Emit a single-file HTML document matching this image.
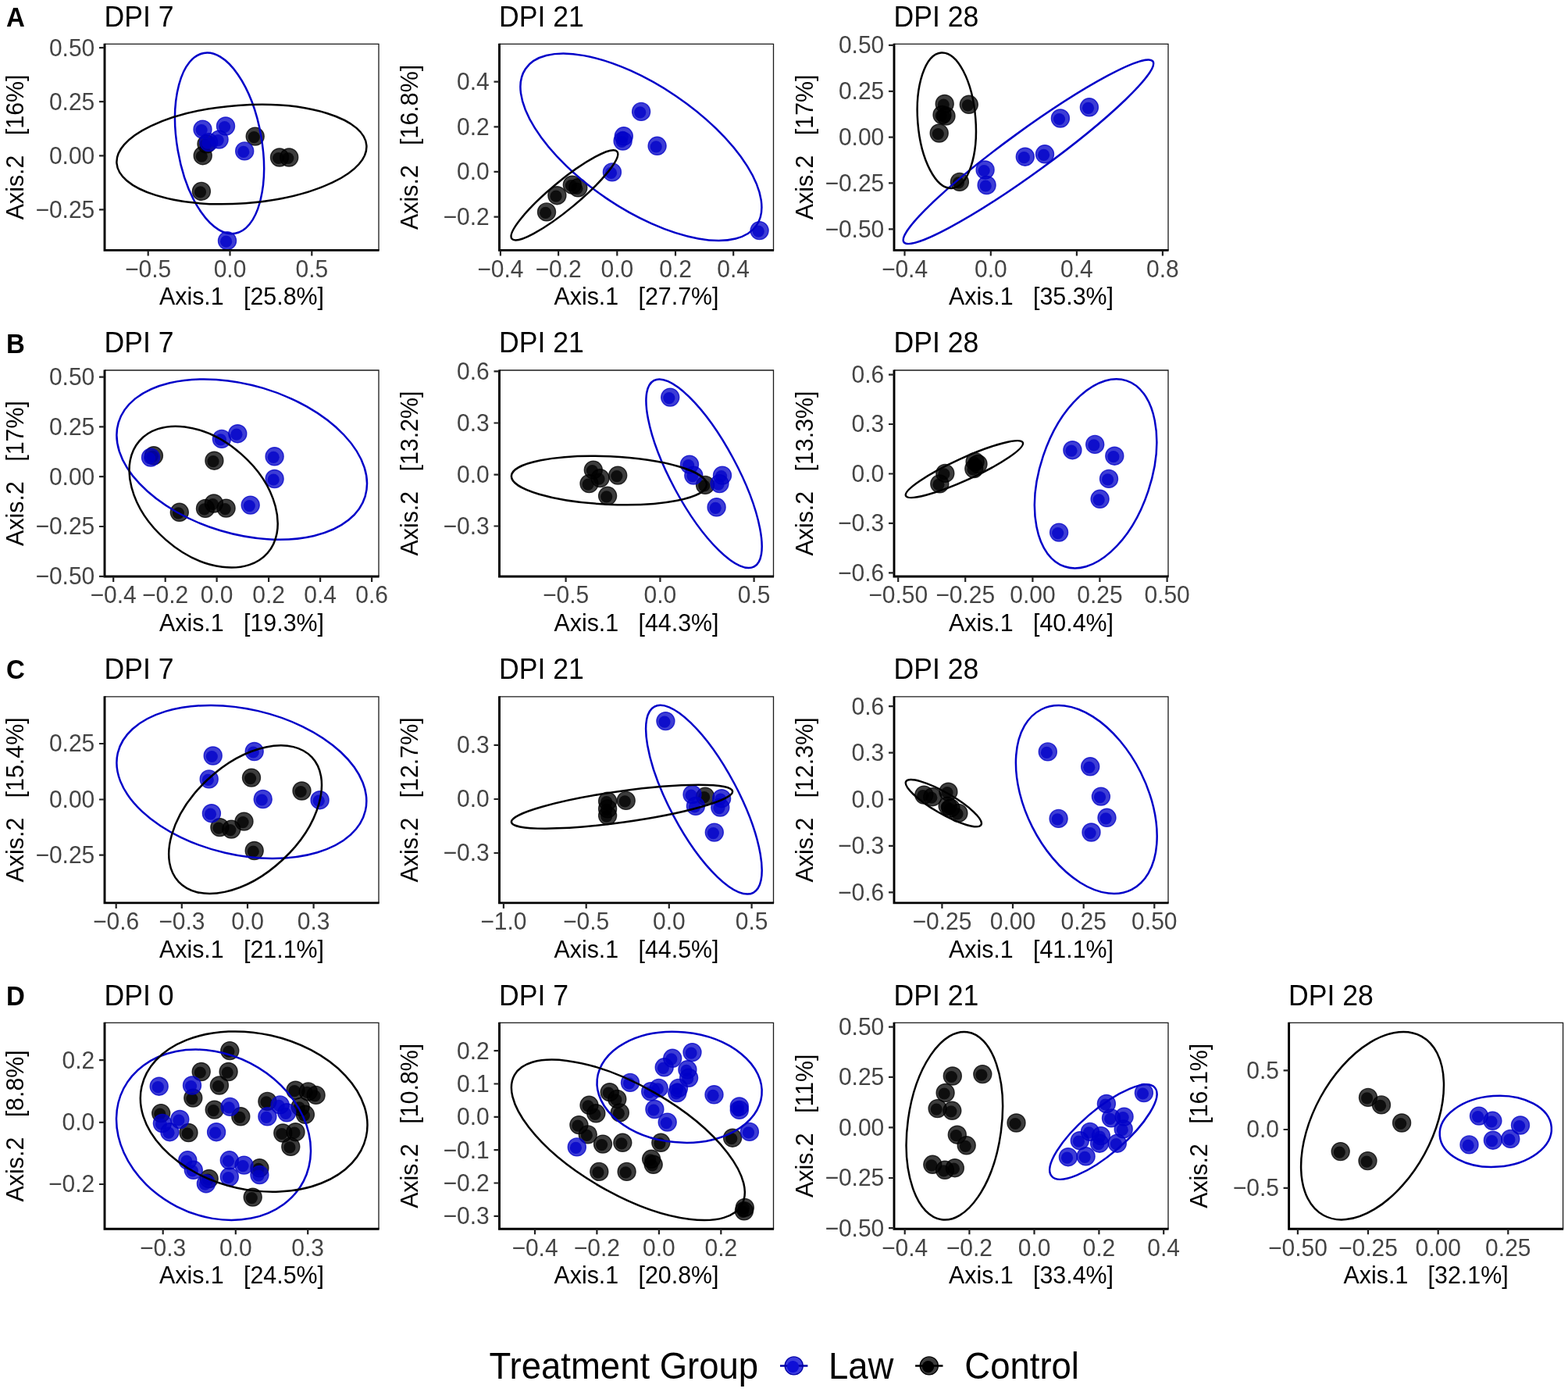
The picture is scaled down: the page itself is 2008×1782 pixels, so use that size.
<!DOCTYPE html>
<html><head><meta charset="utf-8"><title>PCoA</title>
<style>html,body{margin:0;padding:0;background:#fff;}svg{display:block;font-family:'Liberation Sans', Arial, Helvetica, sans-serif;}</style></head><body>
<svg xmlns="http://www.w3.org/2000/svg" width="2008" height="1782" viewBox="0 0 2008 1782">
<rect width="2008" height="1782" fill="#fff"/>
<text transform="translate(8 33.9) scale(1 1.04)" font-size="33" font-weight="bold">A</text>
<text transform="translate(8 451.5) scale(1 1.04)" font-size="33" font-weight="bold">B</text>
<text transform="translate(8 869.4) scale(1 1.04)" font-size="33" font-weight="bold">C</text>
<text transform="translate(8 1286.8) scale(1 1.04)" font-size="33" font-weight="bold">D</text>
<g><text transform="translate(133.5 33.6) scale(1 1.04)" font-size="35.6">DPI 7</text><clipPath id="c00"><rect x="134" y="56.4" width="351.0" height="264.0"/></clipPath><g clip-path="url(#c00)"><circle cx="326.7" cy="174.6" r="11.5" fill="#000000" fill-opacity="0.76" stroke="#000000" stroke-opacity="0.76" stroke-width="1.4"/><circle cx="325.3" cy="175.6" r="7.6" fill="#000000" fill-opacity="0.76"/><circle cx="259.7" cy="199.2" r="11.5" fill="#000000" fill-opacity="0.76" stroke="#000000" stroke-opacity="0.76" stroke-width="1.4"/><circle cx="258.3" cy="200.2" r="7.6" fill="#000000" fill-opacity="0.76"/><circle cx="257.9" cy="244.9" r="11.5" fill="#000000" fill-opacity="0.76" stroke="#000000" stroke-opacity="0.76" stroke-width="1.4"/><circle cx="256.5" cy="245.9" r="7.6" fill="#000000" fill-opacity="0.76"/><circle cx="358" cy="201.5" r="11.5" fill="#000000" fill-opacity="0.76" stroke="#000000" stroke-opacity="0.76" stroke-width="1.4"/><circle cx="356.6" cy="202.5" r="7.6" fill="#000000" fill-opacity="0.76"/><circle cx="370.2" cy="201.5" r="11.5" fill="#000000" fill-opacity="0.76" stroke="#000000" stroke-opacity="0.76" stroke-width="1.4"/><circle cx="368.8" cy="202.5" r="7.6" fill="#000000" fill-opacity="0.76"/><circle cx="264.5" cy="184.3" r="11.5" fill="#000000" fill-opacity="0.76" stroke="#000000" stroke-opacity="0.76" stroke-width="1.4"/><circle cx="263.1" cy="185.3" r="7.6" fill="#000000" fill-opacity="0.76"/><circle cx="259.5" cy="165.6" r="11.5" fill="#0000c8" fill-opacity="0.76" stroke="#0000c8" stroke-opacity="0.76" stroke-width="1.4"/><circle cx="258.1" cy="166.6" r="7.6" fill="#0000c8" fill-opacity="0.76"/><circle cx="289" cy="161.5" r="11.5" fill="#0000c8" fill-opacity="0.76" stroke="#0000c8" stroke-opacity="0.76" stroke-width="1.4"/><circle cx="287.6" cy="162.5" r="7.6" fill="#0000c8" fill-opacity="0.76"/><circle cx="280.6" cy="178.6" r="11.5" fill="#0000c8" fill-opacity="0.76" stroke="#0000c8" stroke-opacity="0.76" stroke-width="1.4"/><circle cx="279.2" cy="179.6" r="7.6" fill="#0000c8" fill-opacity="0.76"/><circle cx="267.2" cy="182.1" r="11.5" fill="#0000c8" fill-opacity="0.76" stroke="#0000c8" stroke-opacity="0.76" stroke-width="1.4"/><circle cx="265.8" cy="183.1" r="7.6" fill="#0000c8" fill-opacity="0.76"/><circle cx="313.2" cy="193.4" r="11.5" fill="#0000c8" fill-opacity="0.76" stroke="#0000c8" stroke-opacity="0.76" stroke-width="1.4"/><circle cx="311.8" cy="194.4" r="7.6" fill="#0000c8" fill-opacity="0.76"/><circle cx="291" cy="308.2" r="11.5" fill="#0000c8" fill-opacity="0.76" stroke="#0000c8" stroke-opacity="0.76" stroke-width="1.4"/><circle cx="289.6" cy="309.2" r="7.6" fill="#0000c8" fill-opacity="0.76"/><ellipse cx="281.05" cy="183.4" rx="117.16" ry="54.09" transform="rotate(-99.87 281.05 183.4)" fill="none" stroke="#0000c8" stroke-width="2.5"/><ellipse cx="309.4" cy="197.55" rx="160.35" ry="62.78" transform="rotate(175.91 309.4 197.55)" fill="none" stroke="#000000" stroke-width="2.5"/></g><path d="M134 56.4H485V320.4" fill="none" stroke="#1a1a1a" stroke-width="1.3"/><path d="M134 55.8V320.4H485.6" fill="none" stroke="#000" stroke-width="2.9" stroke-linejoin="miter" stroke-linecap="butt"/><path d="M127 61.2H134M127 130.2H134M127 199.3H134M127 268.4H134M189.7 320.4V327.4M294.5 320.4V327.4M399.3 320.4V327.4" stroke="#222" stroke-width="2.2" fill="none"/><g font-size="30" fill="#444444"><text transform="translate(121.3 71.6) scale(1 1.04)" text-anchor="end">0.50</text><text transform="translate(121.3 140.6) scale(1 1.04)" text-anchor="end">0.25</text><text transform="translate(121.3 209.7) scale(1 1.04)" text-anchor="end">0.00</text><text transform="translate(121.3 278.8) scale(1 1.04)" text-anchor="end">−0.25</text><text transform="translate(189.7 354.6) scale(1 1.04)" text-anchor="middle">−0.5</text><text transform="translate(294.5 354.6) scale(1 1.04)" text-anchor="middle">0.0</text><text transform="translate(399.3 354.6) scale(1 1.04)" text-anchor="middle">0.5</text></g><text transform="translate(309.5 390.2) scale(1 1.04)" font-size="30.4" text-anchor="middle" xml:space="preserve">Axis.1   [25.8%]</text><text transform="translate(29.6 188.4) rotate(-90) scale(1 1.04)" font-size="30.4" text-anchor="middle" xml:space="preserve">Axis.2   [16%]</text></g>
<g><text transform="translate(639 33.6) scale(1 1.04)" font-size="35.6">DPI 21</text><clipPath id="c01"><rect x="639.5" y="56.4" width="351.0" height="264.0"/></clipPath><g clip-path="url(#c01)"><circle cx="700" cy="271.4" r="11.5" fill="#000000" fill-opacity="0.76" stroke="#000000" stroke-opacity="0.76" stroke-width="1.4"/><circle cx="698.6" cy="272.4" r="7.6" fill="#000000" fill-opacity="0.76"/><circle cx="713.4" cy="250.2" r="11.5" fill="#000000" fill-opacity="0.76" stroke="#000000" stroke-opacity="0.76" stroke-width="1.4"/><circle cx="712" cy="251.2" r="7.6" fill="#000000" fill-opacity="0.76"/><circle cx="732.8" cy="236.6" r="11.5" fill="#000000" fill-opacity="0.76" stroke="#000000" stroke-opacity="0.76" stroke-width="1.4"/><circle cx="731.4" cy="237.6" r="7.6" fill="#000000" fill-opacity="0.76"/><circle cx="740.3" cy="240.3" r="11.5" fill="#000000" fill-opacity="0.76" stroke="#000000" stroke-opacity="0.76" stroke-width="1.4"/><circle cx="738.9" cy="241.3" r="7.6" fill="#000000" fill-opacity="0.76"/><circle cx="821.1" cy="142.9" r="11.5" fill="#0000c8" fill-opacity="0.76" stroke="#0000c8" stroke-opacity="0.76" stroke-width="1.4"/><circle cx="819.7" cy="143.9" r="7.6" fill="#0000c8" fill-opacity="0.76"/><circle cx="798.8" cy="174.3" r="11.5" fill="#0000c8" fill-opacity="0.76" stroke="#0000c8" stroke-opacity="0.76" stroke-width="1.4"/><circle cx="797.4" cy="175.3" r="7.6" fill="#0000c8" fill-opacity="0.76"/><circle cx="797.6" cy="180.5" r="11.5" fill="#0000c8" fill-opacity="0.76" stroke="#0000c8" stroke-opacity="0.76" stroke-width="1.4"/><circle cx="796.2" cy="181.5" r="7.6" fill="#0000c8" fill-opacity="0.76"/><circle cx="841.6" cy="186.8" r="11.5" fill="#0000c8" fill-opacity="0.76" stroke="#0000c8" stroke-opacity="0.76" stroke-width="1.4"/><circle cx="840.2" cy="187.8" r="7.6" fill="#0000c8" fill-opacity="0.76"/><circle cx="783.9" cy="220.4" r="11.5" fill="#0000c8" fill-opacity="0.76" stroke="#0000c8" stroke-opacity="0.76" stroke-width="1.4"/><circle cx="782.5" cy="221.4" r="7.6" fill="#0000c8" fill-opacity="0.76"/><circle cx="972.6" cy="295.1" r="11.5" fill="#0000c8" fill-opacity="0.76" stroke="#0000c8" stroke-opacity="0.76" stroke-width="1.4"/><circle cx="971.2" cy="296.1" r="7.6" fill="#0000c8" fill-opacity="0.76"/><ellipse cx="820.91" cy="188.28" rx="178.65" ry="79.17" transform="rotate(-145.93 820.91 188.28)" fill="none" stroke="#0000c8" stroke-width="2.5"/><ellipse cx="722.9" cy="249.9" rx="87.5" ry="17.8" transform="rotate(-39.66 722.9 249.9)" fill="none" stroke="#000000" stroke-width="2.5"/></g><path d="M639.5 56.4H990.5V320.4" fill="none" stroke="#1a1a1a" stroke-width="1.3"/><path d="M639.5 55.8V320.4H991.1" fill="none" stroke="#000" stroke-width="2.9" stroke-linejoin="miter" stroke-linecap="butt"/><path d="M632.5 104.6H639.5M632.5 162.4H639.5M632.5 219.9H639.5M632.5 277.6H639.5M640.9 320.4V327.4M715.1 320.4V327.4M790.3 320.4V327.4M865 320.4V327.4M939.2 320.4V327.4" stroke="#222" stroke-width="2.2" fill="none"/><g font-size="30" fill="#444444"><text transform="translate(626.8 115) scale(1 1.04)" text-anchor="end">0.4</text><text transform="translate(626.8 172.8) scale(1 1.04)" text-anchor="end">0.2</text><text transform="translate(626.8 230.3) scale(1 1.04)" text-anchor="end">0.0</text><text transform="translate(626.8 288) scale(1 1.04)" text-anchor="end">−0.2</text><text transform="translate(640.9 354.6) scale(1 1.04)" text-anchor="middle">−0.4</text><text transform="translate(715.1 354.6) scale(1 1.04)" text-anchor="middle">−0.2</text><text transform="translate(790.3 354.6) scale(1 1.04)" text-anchor="middle">0.0</text><text transform="translate(865 354.6) scale(1 1.04)" text-anchor="middle">0.2</text><text transform="translate(939.2 354.6) scale(1 1.04)" text-anchor="middle">0.4</text></g><text transform="translate(815 390.2) scale(1 1.04)" font-size="30.4" text-anchor="middle" xml:space="preserve">Axis.1   [27.7%]</text><text transform="translate(535.1 188.4) rotate(-90) scale(1 1.04)" font-size="30.4" text-anchor="middle" xml:space="preserve">Axis.2   [16.8%]</text></g>
<g><text transform="translate(1144.5 33.6) scale(1 1.04)" font-size="35.6">DPI 28</text><clipPath id="c02"><rect x="1145" y="56.4" width="351.0" height="264.0"/></clipPath><g clip-path="url(#c02)"><circle cx="1209.7" cy="133" r="11.5" fill="#000000" fill-opacity="0.76" stroke="#000000" stroke-opacity="0.76" stroke-width="1.4"/><circle cx="1208.3" cy="134" r="7.6" fill="#000000" fill-opacity="0.76"/><circle cx="1206.5" cy="147" r="11.5" fill="#000000" fill-opacity="0.76" stroke="#000000" stroke-opacity="0.76" stroke-width="1.4"/><circle cx="1205.1" cy="148" r="7.6" fill="#000000" fill-opacity="0.76"/><circle cx="1211.5" cy="148.6" r="11.5" fill="#000000" fill-opacity="0.76" stroke="#000000" stroke-opacity="0.76" stroke-width="1.4"/><circle cx="1210.1" cy="149.6" r="7.6" fill="#000000" fill-opacity="0.76"/><circle cx="1240.8" cy="133.8" r="11.5" fill="#000000" fill-opacity="0.76" stroke="#000000" stroke-opacity="0.76" stroke-width="1.4"/><circle cx="1239.4" cy="134.8" r="7.6" fill="#000000" fill-opacity="0.76"/><circle cx="1202.7" cy="170.5" r="11.5" fill="#000000" fill-opacity="0.76" stroke="#000000" stroke-opacity="0.76" stroke-width="1.4"/><circle cx="1201.3" cy="171.5" r="7.6" fill="#000000" fill-opacity="0.76"/><circle cx="1228.9" cy="232.9" r="11.5" fill="#000000" fill-opacity="0.76" stroke="#000000" stroke-opacity="0.76" stroke-width="1.4"/><circle cx="1227.5" cy="233.9" r="7.6" fill="#000000" fill-opacity="0.76"/><circle cx="1261.6" cy="217.5" r="11.5" fill="#0000c8" fill-opacity="0.76" stroke="#0000c8" stroke-opacity="0.76" stroke-width="1.4"/><circle cx="1260.2" cy="218.5" r="7.6" fill="#0000c8" fill-opacity="0.76"/><circle cx="1263.6" cy="237" r="11.5" fill="#0000c8" fill-opacity="0.76" stroke="#0000c8" stroke-opacity="0.76" stroke-width="1.4"/><circle cx="1262.2" cy="238" r="7.6" fill="#0000c8" fill-opacity="0.76"/><circle cx="1312.8" cy="200.7" r="11.5" fill="#0000c8" fill-opacity="0.76" stroke="#0000c8" stroke-opacity="0.76" stroke-width="1.4"/><circle cx="1311.4" cy="201.7" r="7.6" fill="#0000c8" fill-opacity="0.76"/><circle cx="1338" cy="197.3" r="11.5" fill="#0000c8" fill-opacity="0.76" stroke="#0000c8" stroke-opacity="0.76" stroke-width="1.4"/><circle cx="1336.6" cy="198.3" r="7.6" fill="#0000c8" fill-opacity="0.76"/><circle cx="1357.9" cy="151.5" r="11.5" fill="#0000c8" fill-opacity="0.76" stroke="#0000c8" stroke-opacity="0.76" stroke-width="1.4"/><circle cx="1356.5" cy="152.5" r="7.6" fill="#0000c8" fill-opacity="0.76"/><circle cx="1394.9" cy="137.3" r="11.5" fill="#0000c8" fill-opacity="0.76" stroke="#0000c8" stroke-opacity="0.76" stroke-width="1.4"/><circle cx="1393.5" cy="138.3" r="7.6" fill="#0000c8" fill-opacity="0.76"/><ellipse cx="1316.94" cy="194.29" rx="197" ry="27.09" transform="rotate(144.03 1316.94 194.29)" fill="none" stroke="#0000c8" stroke-width="2.5"/><ellipse cx="1212.3" cy="154.2" rx="87.03" ry="37.08" transform="rotate(-94.56 1212.3 154.2)" fill="none" stroke="#000000" stroke-width="2.5"/></g><path d="M1145 56.4H1496V320.4" fill="none" stroke="#1a1a1a" stroke-width="1.3"/><path d="M1145 55.8V320.4H1496.6" fill="none" stroke="#000" stroke-width="2.9" stroke-linejoin="miter" stroke-linecap="butt"/><path d="M1138 57.9H1145M1138 116.8H1145M1138 175.6H1145M1138 234.4H1145M1138 293.4H1145M1158.5 320.4V327.4M1268.8 320.4V327.4M1378.9 320.4V327.4M1488.9 320.4V327.4" stroke="#222" stroke-width="2.2" fill="none"/><g font-size="30" fill="#444444"><text transform="translate(1132.3 68.3) scale(1 1.04)" text-anchor="end">0.50</text><text transform="translate(1132.3 127.2) scale(1 1.04)" text-anchor="end">0.25</text><text transform="translate(1132.3 186) scale(1 1.04)" text-anchor="end">0.00</text><text transform="translate(1132.3 244.8) scale(1 1.04)" text-anchor="end">−0.25</text><text transform="translate(1132.3 303.8) scale(1 1.04)" text-anchor="end">−0.50</text><text transform="translate(1158.5 354.6) scale(1 1.04)" text-anchor="middle">−0.4</text><text transform="translate(1268.8 354.6) scale(1 1.04)" text-anchor="middle">0.0</text><text transform="translate(1378.9 354.6) scale(1 1.04)" text-anchor="middle">0.4</text><text transform="translate(1488.9 354.6) scale(1 1.04)" text-anchor="middle">0.8</text></g><text transform="translate(1320.5 390.2) scale(1 1.04)" font-size="30.4" text-anchor="middle" xml:space="preserve">Axis.1   [35.3%]</text><text transform="translate(1040.6 188.4) rotate(-90) scale(1 1.04)" font-size="30.4" text-anchor="middle" xml:space="preserve">Axis.2   [17%]</text></g>
<g><text transform="translate(133.5 451.2) scale(1 1.04)" font-size="35.6">DPI 7</text><clipPath id="c10"><rect x="134" y="474" width="351.0" height="264.0"/></clipPath><g clip-path="url(#c10)"><circle cx="196.9" cy="583.3" r="11.5" fill="#000000" fill-opacity="0.76" stroke="#000000" stroke-opacity="0.76" stroke-width="1.4"/><circle cx="195.5" cy="584.3" r="7.6" fill="#000000" fill-opacity="0.76"/><circle cx="274.4" cy="589.7" r="11.5" fill="#000000" fill-opacity="0.76" stroke="#000000" stroke-opacity="0.76" stroke-width="1.4"/><circle cx="273" cy="590.7" r="7.6" fill="#000000" fill-opacity="0.76"/><circle cx="229.8" cy="655.8" r="11.5" fill="#000000" fill-opacity="0.76" stroke="#000000" stroke-opacity="0.76" stroke-width="1.4"/><circle cx="228.4" cy="656.8" r="7.6" fill="#000000" fill-opacity="0.76"/><circle cx="263" cy="650.9" r="11.5" fill="#000000" fill-opacity="0.76" stroke="#000000" stroke-opacity="0.76" stroke-width="1.4"/><circle cx="261.6" cy="651.9" r="7.6" fill="#000000" fill-opacity="0.76"/><circle cx="273.9" cy="644.5" r="11.5" fill="#000000" fill-opacity="0.76" stroke="#000000" stroke-opacity="0.76" stroke-width="1.4"/><circle cx="272.5" cy="645.5" r="7.6" fill="#000000" fill-opacity="0.76"/><circle cx="289.6" cy="650.6" r="11.5" fill="#000000" fill-opacity="0.76" stroke="#000000" stroke-opacity="0.76" stroke-width="1.4"/><circle cx="288.2" cy="651.6" r="7.6" fill="#000000" fill-opacity="0.76"/><circle cx="193" cy="585.6" r="11.5" fill="#0000c8" fill-opacity="0.76" stroke="#0000c8" stroke-opacity="0.76" stroke-width="1.4"/><circle cx="191.6" cy="586.6" r="7.6" fill="#0000c8" fill-opacity="0.76"/><circle cx="283.9" cy="561.9" r="11.5" fill="#0000c8" fill-opacity="0.76" stroke="#0000c8" stroke-opacity="0.76" stroke-width="1.4"/><circle cx="282.5" cy="562.9" r="7.6" fill="#0000c8" fill-opacity="0.76"/><circle cx="304.3" cy="555.2" r="11.5" fill="#0000c8" fill-opacity="0.76" stroke="#0000c8" stroke-opacity="0.76" stroke-width="1.4"/><circle cx="302.9" cy="556.2" r="7.6" fill="#0000c8" fill-opacity="0.76"/><circle cx="351.6" cy="584.3" r="11.5" fill="#0000c8" fill-opacity="0.76" stroke="#0000c8" stroke-opacity="0.76" stroke-width="1.4"/><circle cx="350.2" cy="585.3" r="7.6" fill="#0000c8" fill-opacity="0.76"/><circle cx="351.6" cy="613" r="11.5" fill="#0000c8" fill-opacity="0.76" stroke="#0000c8" stroke-opacity="0.76" stroke-width="1.4"/><circle cx="350.2" cy="614" r="7.6" fill="#0000c8" fill-opacity="0.76"/><circle cx="320.7" cy="646.6" r="11.5" fill="#0000c8" fill-opacity="0.76" stroke="#0000c8" stroke-opacity="0.76" stroke-width="1.4"/><circle cx="319.3" cy="647.6" r="7.6" fill="#0000c8" fill-opacity="0.76"/><ellipse cx="309.7" cy="588.1" rx="164.87" ry="95.2" transform="rotate(-163.36 309.7 588.1)" fill="none" stroke="#0000c8" stroke-width="2.5"/><ellipse cx="260.6" cy="636.15" rx="108.99" ry="73.11" transform="rotate(-138.79 260.6 636.15)" fill="none" stroke="#000000" stroke-width="2.5"/></g><path d="M134 474H485V738" fill="none" stroke="#1a1a1a" stroke-width="1.3"/><path d="M134 473.4V738H485.6" fill="none" stroke="#000" stroke-width="2.9" stroke-linejoin="miter" stroke-linecap="butt"/><path d="M127 482.6H134M127 546.4H134M127 610.2H134M127 674H134M127 737.8H134M145.2 738V745M211.7 738V745M277.6 738V745M344.1 738V745M410.1 738V745M476.1 738V745" stroke="#222" stroke-width="2.2" fill="none"/><g font-size="30" fill="#444444"><text transform="translate(121.3 493) scale(1 1.04)" text-anchor="end">0.50</text><text transform="translate(121.3 556.8) scale(1 1.04)" text-anchor="end">0.25</text><text transform="translate(121.3 620.6) scale(1 1.04)" text-anchor="end">0.00</text><text transform="translate(121.3 684.4) scale(1 1.04)" text-anchor="end">−0.25</text><text transform="translate(121.3 748.2) scale(1 1.04)" text-anchor="end">−0.50</text><text transform="translate(145.2 772.2) scale(1 1.04)" text-anchor="middle">−0.4</text><text transform="translate(211.7 772.2) scale(1 1.04)" text-anchor="middle">−0.2</text><text transform="translate(277.6 772.2) scale(1 1.04)" text-anchor="middle">0.0</text><text transform="translate(344.1 772.2) scale(1 1.04)" text-anchor="middle">0.2</text><text transform="translate(410.1 772.2) scale(1 1.04)" text-anchor="middle">0.4</text><text transform="translate(476.1 772.2) scale(1 1.04)" text-anchor="middle">0.6</text></g><text transform="translate(309.5 807.8) scale(1 1.04)" font-size="30.4" text-anchor="middle" xml:space="preserve">Axis.1   [19.3%]</text><text transform="translate(29.6 606) rotate(-90) scale(1 1.04)" font-size="30.4" text-anchor="middle" xml:space="preserve">Axis.2   [17%]</text></g>
<g><text transform="translate(639 451.2) scale(1 1.04)" font-size="35.6">DPI 21</text><clipPath id="c11"><rect x="639.5" y="474" width="351.0" height="264.0"/></clipPath><g clip-path="url(#c11)"><circle cx="759.8" cy="601.6" r="11.5" fill="#000000" fill-opacity="0.76" stroke="#000000" stroke-opacity="0.76" stroke-width="1.4"/><circle cx="758.4" cy="602.6" r="7.6" fill="#000000" fill-opacity="0.76"/><circle cx="768.5" cy="612.1" r="11.5" fill="#000000" fill-opacity="0.76" stroke="#000000" stroke-opacity="0.76" stroke-width="1.4"/><circle cx="767.1" cy="613.1" r="7.6" fill="#000000" fill-opacity="0.76"/><circle cx="754.5" cy="619.1" r="11.5" fill="#000000" fill-opacity="0.76" stroke="#000000" stroke-opacity="0.76" stroke-width="1.4"/><circle cx="753.1" cy="620.1" r="7.6" fill="#000000" fill-opacity="0.76"/><circle cx="778.1" cy="634.8" r="11.5" fill="#000000" fill-opacity="0.76" stroke="#000000" stroke-opacity="0.76" stroke-width="1.4"/><circle cx="776.7" cy="635.8" r="7.6" fill="#000000" fill-opacity="0.76"/><circle cx="791.2" cy="608.6" r="11.5" fill="#000000" fill-opacity="0.76" stroke="#000000" stroke-opacity="0.76" stroke-width="1.4"/><circle cx="789.8" cy="609.6" r="7.6" fill="#000000" fill-opacity="0.76"/><circle cx="903.1" cy="620.9" r="11.5" fill="#000000" fill-opacity="0.76" stroke="#000000" stroke-opacity="0.76" stroke-width="1.4"/><circle cx="901.7" cy="621.9" r="7.6" fill="#000000" fill-opacity="0.76"/><circle cx="858.2" cy="508.6" r="11.5" fill="#0000c8" fill-opacity="0.76" stroke="#0000c8" stroke-opacity="0.76" stroke-width="1.4"/><circle cx="856.8" cy="509.6" r="7.6" fill="#0000c8" fill-opacity="0.76"/><circle cx="883" cy="594.6" r="11.5" fill="#0000c8" fill-opacity="0.76" stroke="#0000c8" stroke-opacity="0.76" stroke-width="1.4"/><circle cx="881.6" cy="595.6" r="7.6" fill="#0000c8" fill-opacity="0.76"/><circle cx="888.3" cy="608.6" r="11.5" fill="#0000c8" fill-opacity="0.76" stroke="#0000c8" stroke-opacity="0.76" stroke-width="1.4"/><circle cx="886.9" cy="609.6" r="7.6" fill="#0000c8" fill-opacity="0.76"/><circle cx="925" cy="608.6" r="11.5" fill="#0000c8" fill-opacity="0.76" stroke="#0000c8" stroke-opacity="0.76" stroke-width="1.4"/><circle cx="923.6" cy="609.6" r="7.6" fill="#0000c8" fill-opacity="0.76"/><circle cx="921.5" cy="619.1" r="11.5" fill="#0000c8" fill-opacity="0.76" stroke="#0000c8" stroke-opacity="0.76" stroke-width="1.4"/><circle cx="920.1" cy="620.1" r="7.6" fill="#0000c8" fill-opacity="0.76"/><circle cx="917.6" cy="649.3" r="11.5" fill="#0000c8" fill-opacity="0.76" stroke="#0000c8" stroke-opacity="0.76" stroke-width="1.4"/><circle cx="916.2" cy="650.3" r="7.6" fill="#0000c8" fill-opacity="0.76"/><ellipse cx="901.55" cy="606.25" rx="135.38" ry="42.12" transform="rotate(-118.31 901.55 606.25)" fill="none" stroke="#0000c8" stroke-width="2.5"/><ellipse cx="779.95" cy="615" rx="125.17" ry="30.72" transform="rotate(-177.43 779.95 615)" fill="none" stroke="#000000" stroke-width="2.5"/></g><path d="M639.5 474H990.5V738" fill="none" stroke="#1a1a1a" stroke-width="1.3"/><path d="M639.5 473.4V738H991.1" fill="none" stroke="#000" stroke-width="2.9" stroke-linejoin="miter" stroke-linecap="butt"/><path d="M632.5 475.3H639.5M632.5 541.5H639.5M632.5 607.7H639.5M632.5 673.5H639.5M724.6 738V745M845.4 738V745M965.6 738V745" stroke="#222" stroke-width="2.2" fill="none"/><g font-size="30" fill="#444444"><text transform="translate(626.8 485.7) scale(1 1.04)" text-anchor="end">0.6</text><text transform="translate(626.8 551.9) scale(1 1.04)" text-anchor="end">0.3</text><text transform="translate(626.8 618.1) scale(1 1.04)" text-anchor="end">0.0</text><text transform="translate(626.8 683.9) scale(1 1.04)" text-anchor="end">−0.3</text><text transform="translate(724.6 772.2) scale(1 1.04)" text-anchor="middle">−0.5</text><text transform="translate(845.4 772.2) scale(1 1.04)" text-anchor="middle">0.0</text><text transform="translate(965.6 772.2) scale(1 1.04)" text-anchor="middle">0.5</text></g><text transform="translate(815 807.8) scale(1 1.04)" font-size="30.4" text-anchor="middle" xml:space="preserve">Axis.1   [44.3%]</text><text transform="translate(535.1 606) rotate(-90) scale(1 1.04)" font-size="30.4" text-anchor="middle" xml:space="preserve">Axis.2   [13.2%]</text></g>
<g><text transform="translate(1144.5 451.2) scale(1 1.04)" font-size="35.6">DPI 28</text><clipPath id="c12"><rect x="1145" y="474" width="351.0" height="264.0"/></clipPath><g clip-path="url(#c12)"><circle cx="1210.3" cy="605.9" r="11.5" fill="#000000" fill-opacity="0.76" stroke="#000000" stroke-opacity="0.76" stroke-width="1.4"/><circle cx="1208.9" cy="606.9" r="7.6" fill="#000000" fill-opacity="0.76"/><circle cx="1203.3" cy="619.4" r="11.5" fill="#000000" fill-opacity="0.76" stroke="#000000" stroke-opacity="0.76" stroke-width="1.4"/><circle cx="1201.9" cy="620.4" r="7.6" fill="#000000" fill-opacity="0.76"/><circle cx="1248.6" cy="590.9" r="11.5" fill="#000000" fill-opacity="0.76" stroke="#000000" stroke-opacity="0.76" stroke-width="1.4"/><circle cx="1247.2" cy="591.9" r="7.6" fill="#000000" fill-opacity="0.76"/><circle cx="1252.5" cy="594" r="11.5" fill="#000000" fill-opacity="0.76" stroke="#000000" stroke-opacity="0.76" stroke-width="1.4"/><circle cx="1251.1" cy="595" r="7.6" fill="#000000" fill-opacity="0.76"/><circle cx="1247.3" cy="600" r="11.5" fill="#000000" fill-opacity="0.76" stroke="#000000" stroke-opacity="0.76" stroke-width="1.4"/><circle cx="1245.9" cy="601" r="7.6" fill="#000000" fill-opacity="0.76"/><circle cx="1373.4" cy="576.2" r="11.5" fill="#0000c8" fill-opacity="0.76" stroke="#0000c8" stroke-opacity="0.76" stroke-width="1.4"/><circle cx="1372" cy="577.2" r="7.6" fill="#0000c8" fill-opacity="0.76"/><circle cx="1402.2" cy="568.9" r="11.5" fill="#0000c8" fill-opacity="0.76" stroke="#0000c8" stroke-opacity="0.76" stroke-width="1.4"/><circle cx="1400.8" cy="569.9" r="7.6" fill="#0000c8" fill-opacity="0.76"/><circle cx="1427.3" cy="583.7" r="11.5" fill="#0000c8" fill-opacity="0.76" stroke="#0000c8" stroke-opacity="0.76" stroke-width="1.4"/><circle cx="1425.9" cy="584.7" r="7.6" fill="#0000c8" fill-opacity="0.76"/><circle cx="1420" cy="612.9" r="11.5" fill="#0000c8" fill-opacity="0.76" stroke="#0000c8" stroke-opacity="0.76" stroke-width="1.4"/><circle cx="1418.6" cy="613.9" r="7.6" fill="#0000c8" fill-opacity="0.76"/><circle cx="1408.6" cy="638.8" r="11.5" fill="#0000c8" fill-opacity="0.76" stroke="#0000c8" stroke-opacity="0.76" stroke-width="1.4"/><circle cx="1407.2" cy="639.8" r="7.6" fill="#0000c8" fill-opacity="0.76"/><circle cx="1356.1" cy="681.6" r="11.5" fill="#0000c8" fill-opacity="0.76" stroke="#0000c8" stroke-opacity="0.76" stroke-width="1.4"/><circle cx="1354.7" cy="682.6" r="7.6" fill="#0000c8" fill-opacity="0.76"/><ellipse cx="1403.1" cy="606.35" rx="125.4" ry="70.9" transform="rotate(-71.54 1403.1 606.35)" fill="none" stroke="#0000c8" stroke-width="2.5"/><ellipse cx="1234.9" cy="600.6" rx="82.27" ry="14.03" transform="rotate(155.52 1234.9 600.6)" fill="none" stroke="#000000" stroke-width="2.5"/></g><path d="M1145 474H1496V738" fill="none" stroke="#1a1a1a" stroke-width="1.3"/><path d="M1145 473.4V738H1496.6" fill="none" stroke="#000" stroke-width="2.9" stroke-linejoin="miter" stroke-linecap="butt"/><path d="M1138 479.6H1145M1138 543H1145M1138 606.5H1145M1138 669.9H1145M1138 733.3H1145M1150.2 738V745M1236.2 738V745M1322.4 738V745M1408.4 738V745M1494.6 738V745" stroke="#222" stroke-width="2.2" fill="none"/><g font-size="30" fill="#444444"><text transform="translate(1132.3 490) scale(1 1.04)" text-anchor="end">0.6</text><text transform="translate(1132.3 553.4) scale(1 1.04)" text-anchor="end">0.3</text><text transform="translate(1132.3 616.9) scale(1 1.04)" text-anchor="end">0.0</text><text transform="translate(1132.3 680.3) scale(1 1.04)" text-anchor="end">−0.3</text><text transform="translate(1132.3 743.7) scale(1 1.04)" text-anchor="end">−0.6</text><text transform="translate(1150.2 772.2) scale(1 1.04)" text-anchor="middle">−0.50</text><text transform="translate(1236.2 772.2) scale(1 1.04)" text-anchor="middle">−0.25</text><text transform="translate(1322.4 772.2) scale(1 1.04)" text-anchor="middle">0.00</text><text transform="translate(1408.4 772.2) scale(1 1.04)" text-anchor="middle">0.25</text><text transform="translate(1494.6 772.2) scale(1 1.04)" text-anchor="middle">0.50</text></g><text transform="translate(1320.5 807.8) scale(1 1.04)" font-size="30.4" text-anchor="middle" xml:space="preserve">Axis.1   [40.4%]</text><text transform="translate(1040.6 606) rotate(-90) scale(1 1.04)" font-size="30.4" text-anchor="middle" xml:space="preserve">Axis.2   [13.3%]</text></g>
<g><text transform="translate(133.5 869.1) scale(1 1.04)" font-size="35.6">DPI 7</text><clipPath id="c20"><rect x="134" y="891.9" width="351.0" height="264.0"/></clipPath><g clip-path="url(#c20)"><circle cx="322" cy="995.6" r="11.5" fill="#000000" fill-opacity="0.76" stroke="#000000" stroke-opacity="0.76" stroke-width="1.4"/><circle cx="320.6" cy="996.6" r="7.6" fill="#000000" fill-opacity="0.76"/><circle cx="386.5" cy="1012.5" r="11.5" fill="#000000" fill-opacity="0.76" stroke="#000000" stroke-opacity="0.76" stroke-width="1.4"/><circle cx="385.1" cy="1013.5" r="7.6" fill="#000000" fill-opacity="0.76"/><circle cx="312.5" cy="1051.6" r="11.5" fill="#000000" fill-opacity="0.76" stroke="#000000" stroke-opacity="0.76" stroke-width="1.4"/><circle cx="311.1" cy="1052.6" r="7.6" fill="#000000" fill-opacity="0.76"/><circle cx="281.4" cy="1059.1" r="11.5" fill="#000000" fill-opacity="0.76" stroke="#000000" stroke-opacity="0.76" stroke-width="1.4"/><circle cx="280" cy="1060.1" r="7.6" fill="#000000" fill-opacity="0.76"/><circle cx="296.3" cy="1061.6" r="11.5" fill="#000000" fill-opacity="0.76" stroke="#000000" stroke-opacity="0.76" stroke-width="1.4"/><circle cx="294.9" cy="1062.6" r="7.6" fill="#000000" fill-opacity="0.76"/><circle cx="325.7" cy="1089" r="11.5" fill="#000000" fill-opacity="0.76" stroke="#000000" stroke-opacity="0.76" stroke-width="1.4"/><circle cx="324.3" cy="1090" r="7.6" fill="#000000" fill-opacity="0.76"/><circle cx="272.7" cy="967.5" r="11.5" fill="#0000c8" fill-opacity="0.76" stroke="#0000c8" stroke-opacity="0.76" stroke-width="1.4"/><circle cx="271.3" cy="968.5" r="7.6" fill="#0000c8" fill-opacity="0.76"/><circle cx="267.7" cy="997.4" r="11.5" fill="#0000c8" fill-opacity="0.76" stroke="#0000c8" stroke-opacity="0.76" stroke-width="1.4"/><circle cx="266.3" cy="998.4" r="7.6" fill="#0000c8" fill-opacity="0.76"/><circle cx="325.7" cy="962" r="11.5" fill="#0000c8" fill-opacity="0.76" stroke="#0000c8" stroke-opacity="0.76" stroke-width="1.4"/><circle cx="324.3" cy="963" r="7.6" fill="#0000c8" fill-opacity="0.76"/><circle cx="336.7" cy="1023" r="11.5" fill="#0000c8" fill-opacity="0.76" stroke="#0000c8" stroke-opacity="0.76" stroke-width="1.4"/><circle cx="335.3" cy="1024" r="7.6" fill="#0000c8" fill-opacity="0.76"/><circle cx="270.9" cy="1041.2" r="11.5" fill="#0000c8" fill-opacity="0.76" stroke="#0000c8" stroke-opacity="0.76" stroke-width="1.4"/><circle cx="269.5" cy="1042.2" r="7.6" fill="#0000c8" fill-opacity="0.76"/><circle cx="409.6" cy="1024.2" r="11.5" fill="#0000c8" fill-opacity="0.76" stroke="#0000c8" stroke-opacity="0.76" stroke-width="1.4"/><circle cx="408.2" cy="1025.2" r="7.6" fill="#0000c8" fill-opacity="0.76"/><ellipse cx="309.35" cy="1000.95" rx="162.78" ry="93.28" transform="rotate(-166.91 309.35 1000.95)" fill="none" stroke="#0000c8" stroke-width="2.5"/><ellipse cx="314.1" cy="1049.15" rx="116.79" ry="70.3" transform="rotate(136.94 314.1 1049.15)" fill="none" stroke="#000000" stroke-width="2.5"/></g><path d="M134 891.9H485V1155.9" fill="none" stroke="#1a1a1a" stroke-width="1.3"/><path d="M134 891.3V1155.9H485.6" fill="none" stroke="#000" stroke-width="2.9" stroke-linejoin="miter" stroke-linecap="butt"/><path d="M127 952H134M127 1023.5H134M127 1094.7H134M148.7 1155.9V1162.9M232.8 1155.9V1162.9M317 1155.9V1162.9M401.6 1155.9V1162.9" stroke="#222" stroke-width="2.2" fill="none"/><g font-size="30" fill="#444444"><text transform="translate(121.3 962.4) scale(1 1.04)" text-anchor="end">0.25</text><text transform="translate(121.3 1033.9) scale(1 1.04)" text-anchor="end">0.00</text><text transform="translate(121.3 1105.1) scale(1 1.04)" text-anchor="end">−0.25</text><text transform="translate(148.7 1190.1) scale(1 1.04)" text-anchor="middle">−0.6</text><text transform="translate(232.8 1190.1) scale(1 1.04)" text-anchor="middle">−0.3</text><text transform="translate(317 1190.1) scale(1 1.04)" text-anchor="middle">0.0</text><text transform="translate(401.6 1190.1) scale(1 1.04)" text-anchor="middle">0.3</text></g><text transform="translate(309.5 1225.7) scale(1 1.04)" font-size="30.4" text-anchor="middle" xml:space="preserve">Axis.1   [21.1%]</text><text transform="translate(29.6 1023.9) rotate(-90) scale(1 1.04)" font-size="30.4" text-anchor="middle" xml:space="preserve">Axis.2   [15.4%]</text></g>
<g><text transform="translate(639 869.1) scale(1 1.04)" font-size="35.6">DPI 21</text><clipPath id="c21"><rect x="639.5" y="891.9" width="351.0" height="264.0"/></clipPath><g clip-path="url(#c21)"><circle cx="778.1" cy="1025.7" r="11.5" fill="#000000" fill-opacity="0.76" stroke="#000000" stroke-opacity="0.76" stroke-width="1.4"/><circle cx="776.7" cy="1026.7" r="7.6" fill="#000000" fill-opacity="0.76"/><circle cx="778.1" cy="1035.4" r="11.5" fill="#000000" fill-opacity="0.76" stroke="#000000" stroke-opacity="0.76" stroke-width="1.4"/><circle cx="776.7" cy="1036.4" r="7.6" fill="#000000" fill-opacity="0.76"/><circle cx="778.1" cy="1044.1" r="11.5" fill="#000000" fill-opacity="0.76" stroke="#000000" stroke-opacity="0.76" stroke-width="1.4"/><circle cx="776.7" cy="1045.1" r="7.6" fill="#000000" fill-opacity="0.76"/><circle cx="801.7" cy="1024.9" r="11.5" fill="#000000" fill-opacity="0.76" stroke="#000000" stroke-opacity="0.76" stroke-width="1.4"/><circle cx="800.3" cy="1025.9" r="7.6" fill="#000000" fill-opacity="0.76"/><circle cx="903.1" cy="1019.6" r="11.5" fill="#000000" fill-opacity="0.76" stroke="#000000" stroke-opacity="0.76" stroke-width="1.4"/><circle cx="901.7" cy="1020.6" r="7.6" fill="#000000" fill-opacity="0.76"/><circle cx="852.4" cy="923.1" r="11.5" fill="#0000c8" fill-opacity="0.76" stroke="#0000c8" stroke-opacity="0.76" stroke-width="1.4"/><circle cx="851" cy="924.1" r="7.6" fill="#0000c8" fill-opacity="0.76"/><circle cx="886.5" cy="1017" r="11.5" fill="#0000c8" fill-opacity="0.76" stroke="#0000c8" stroke-opacity="0.76" stroke-width="1.4"/><circle cx="885.1" cy="1018" r="7.6" fill="#0000c8" fill-opacity="0.76"/><circle cx="890.9" cy="1031.9" r="11.5" fill="#0000c8" fill-opacity="0.76" stroke="#0000c8" stroke-opacity="0.76" stroke-width="1.4"/><circle cx="889.5" cy="1032.9" r="7.6" fill="#0000c8" fill-opacity="0.76"/><circle cx="924.1" cy="1022.2" r="11.5" fill="#0000c8" fill-opacity="0.76" stroke="#0000c8" stroke-opacity="0.76" stroke-width="1.4"/><circle cx="922.7" cy="1023.2" r="7.6" fill="#0000c8" fill-opacity="0.76"/><circle cx="922.3" cy="1033.6" r="11.5" fill="#0000c8" fill-opacity="0.76" stroke="#0000c8" stroke-opacity="0.76" stroke-width="1.4"/><circle cx="920.9" cy="1034.6" r="7.6" fill="#0000c8" fill-opacity="0.76"/><circle cx="914.8" cy="1065.6" r="11.5" fill="#0000c8" fill-opacity="0.76" stroke="#0000c8" stroke-opacity="0.76" stroke-width="1.4"/><circle cx="913.4" cy="1066.6" r="7.6" fill="#0000c8" fill-opacity="0.76"/><ellipse cx="901.4" cy="1023.7" rx="134.89" ry="44.07" transform="rotate(-117.98 901.4 1023.7)" fill="none" stroke="#0000c8" stroke-width="2.5"/><ellipse cx="796.5" cy="1032.75" rx="142.95" ry="19.96" transform="rotate(172.05 796.5 1032.75)" fill="none" stroke="#000000" stroke-width="2.5"/></g><path d="M639.5 891.9H990.5V1155.9" fill="none" stroke="#1a1a1a" stroke-width="1.3"/><path d="M639.5 891.3V1155.9H991.1" fill="none" stroke="#000" stroke-width="2.9" stroke-linejoin="miter" stroke-linecap="butt"/><path d="M632.5 953.8H639.5M632.5 1023H639.5M632.5 1092H639.5M644.9 1155.9V1162.9M750.7 1155.9V1162.9M856.8 1155.9V1162.9M962.6 1155.9V1162.9" stroke="#222" stroke-width="2.2" fill="none"/><g font-size="30" fill="#444444"><text transform="translate(626.8 964.2) scale(1 1.04)" text-anchor="end">0.3</text><text transform="translate(626.8 1033.4) scale(1 1.04)" text-anchor="end">0.0</text><text transform="translate(626.8 1102.4) scale(1 1.04)" text-anchor="end">−0.3</text><text transform="translate(644.9 1190.1) scale(1 1.04)" text-anchor="middle">−1.0</text><text transform="translate(750.7 1190.1) scale(1 1.04)" text-anchor="middle">−0.5</text><text transform="translate(856.8 1190.1) scale(1 1.04)" text-anchor="middle">0.0</text><text transform="translate(962.6 1190.1) scale(1 1.04)" text-anchor="middle">0.5</text></g><text transform="translate(815 1225.7) scale(1 1.04)" font-size="30.4" text-anchor="middle" xml:space="preserve">Axis.1   [44.5%]</text><text transform="translate(535.1 1023.9) rotate(-90) scale(1 1.04)" font-size="30.4" text-anchor="middle" xml:space="preserve">Axis.2   [12.7%]</text></g>
<g><text transform="translate(1144.5 869.1) scale(1 1.04)" font-size="35.6">DPI 28</text><clipPath id="c22"><rect x="1145" y="891.9" width="351.0" height="264.0"/></clipPath><g clip-path="url(#c22)"><circle cx="1183.3" cy="1017.6" r="11.5" fill="#000000" fill-opacity="0.76" stroke="#000000" stroke-opacity="0.76" stroke-width="1.4"/><circle cx="1181.9" cy="1018.6" r="7.6" fill="#000000" fill-opacity="0.76"/><circle cx="1194.2" cy="1020.2" r="11.5" fill="#000000" fill-opacity="0.76" stroke="#000000" stroke-opacity="0.76" stroke-width="1.4"/><circle cx="1192.8" cy="1021.2" r="7.6" fill="#000000" fill-opacity="0.76"/><circle cx="1214.4" cy="1013.7" r="11.5" fill="#000000" fill-opacity="0.76" stroke="#000000" stroke-opacity="0.76" stroke-width="1.4"/><circle cx="1213" cy="1014.7" r="7.6" fill="#000000" fill-opacity="0.76"/><circle cx="1213.6" cy="1031.8" r="11.5" fill="#000000" fill-opacity="0.76" stroke="#000000" stroke-opacity="0.76" stroke-width="1.4"/><circle cx="1212.2" cy="1032.8" r="7.6" fill="#000000" fill-opacity="0.76"/><circle cx="1217.5" cy="1034.4" r="11.5" fill="#000000" fill-opacity="0.76" stroke="#000000" stroke-opacity="0.76" stroke-width="1.4"/><circle cx="1216.1" cy="1035.4" r="7.6" fill="#000000" fill-opacity="0.76"/><circle cx="1227.4" cy="1040.9" r="11.5" fill="#000000" fill-opacity="0.76" stroke="#000000" stroke-opacity="0.76" stroke-width="1.4"/><circle cx="1226" cy="1041.9" r="7.6" fill="#000000" fill-opacity="0.76"/><circle cx="1341.8" cy="962.4" r="11.5" fill="#0000c8" fill-opacity="0.76" stroke="#0000c8" stroke-opacity="0.76" stroke-width="1.4"/><circle cx="1340.4" cy="963.4" r="7.6" fill="#0000c8" fill-opacity="0.76"/><circle cx="1396.2" cy="981.3" r="11.5" fill="#0000c8" fill-opacity="0.76" stroke="#0000c8" stroke-opacity="0.76" stroke-width="1.4"/><circle cx="1394.8" cy="982.3" r="7.6" fill="#0000c8" fill-opacity="0.76"/><circle cx="1409.9" cy="1019.6" r="11.5" fill="#0000c8" fill-opacity="0.76" stroke="#0000c8" stroke-opacity="0.76" stroke-width="1.4"/><circle cx="1408.5" cy="1020.6" r="7.6" fill="#0000c8" fill-opacity="0.76"/><circle cx="1355.6" cy="1047.9" r="11.5" fill="#0000c8" fill-opacity="0.76" stroke="#0000c8" stroke-opacity="0.76" stroke-width="1.4"/><circle cx="1354.2" cy="1048.9" r="7.6" fill="#0000c8" fill-opacity="0.76"/><circle cx="1417.5" cy="1046.8" r="11.5" fill="#0000c8" fill-opacity="0.76" stroke="#0000c8" stroke-opacity="0.76" stroke-width="1.4"/><circle cx="1416.1" cy="1047.8" r="7.6" fill="#0000c8" fill-opacity="0.76"/><circle cx="1397.5" cy="1065.5" r="11.5" fill="#0000c8" fill-opacity="0.76" stroke="#0000c8" stroke-opacity="0.76" stroke-width="1.4"/><circle cx="1396.1" cy="1066.5" r="7.6" fill="#0000c8" fill-opacity="0.76"/><ellipse cx="1391.3" cy="1023.55" rx="128.99" ry="77.72" transform="rotate(-116.64 1391.3 1023.55)" fill="none" stroke="#0000c8" stroke-width="2.5"/><ellipse cx="1208.35" cy="1028.15" rx="55.5" ry="13.4" transform="rotate(-150.04 1208.35 1028.15)" fill="none" stroke="#000000" stroke-width="2.5"/></g><path d="M1145 891.9H1496V1155.9" fill="none" stroke="#1a1a1a" stroke-width="1.3"/><path d="M1145 891.3V1155.9H1496.6" fill="none" stroke="#000" stroke-width="2.9" stroke-linejoin="miter" stroke-linecap="butt"/><path d="M1138 904.1H1145M1138 963.7H1145M1138 1023.3H1145M1138 1082.8H1145M1138 1142.4H1145M1206.4 1155.9V1162.9M1297 1155.9V1162.9M1387.7 1155.9V1162.9M1478.3 1155.9V1162.9" stroke="#222" stroke-width="2.2" fill="none"/><g font-size="30" fill="#444444"><text transform="translate(1132.3 914.5) scale(1 1.04)" text-anchor="end">0.6</text><text transform="translate(1132.3 974.1) scale(1 1.04)" text-anchor="end">0.3</text><text transform="translate(1132.3 1033.7) scale(1 1.04)" text-anchor="end">0.0</text><text transform="translate(1132.3 1093.2) scale(1 1.04)" text-anchor="end">−0.3</text><text transform="translate(1132.3 1152.8) scale(1 1.04)" text-anchor="end">−0.6</text><text transform="translate(1206.4 1190.1) scale(1 1.04)" text-anchor="middle">−0.25</text><text transform="translate(1297 1190.1) scale(1 1.04)" text-anchor="middle">0.00</text><text transform="translate(1387.7 1190.1) scale(1 1.04)" text-anchor="middle">0.25</text><text transform="translate(1478.3 1190.1) scale(1 1.04)" text-anchor="middle">0.50</text></g><text transform="translate(1320.5 1225.7) scale(1 1.04)" font-size="30.4" text-anchor="middle" xml:space="preserve">Axis.1   [41.1%]</text><text transform="translate(1040.6 1023.9) rotate(-90) scale(1 1.04)" font-size="30.4" text-anchor="middle" xml:space="preserve">Axis.2   [12.3%]</text></g>
<g><text transform="translate(133.5 1286.5) scale(1 1.04)" font-size="35.6">DPI 0</text><clipPath id="c30"><rect x="134" y="1309.3" width="351.0" height="264.0"/></clipPath><g clip-path="url(#c30)"><circle cx="294.3" cy="1345.1" r="11.5" fill="#000000" fill-opacity="0.76" stroke="#000000" stroke-opacity="0.76" stroke-width="1.4"/><circle cx="292.9" cy="1346.1" r="7.6" fill="#000000" fill-opacity="0.76"/><circle cx="257.7" cy="1372" r="11.5" fill="#000000" fill-opacity="0.76" stroke="#000000" stroke-opacity="0.76" stroke-width="1.4"/><circle cx="256.3" cy="1373" r="7.6" fill="#000000" fill-opacity="0.76"/><circle cx="292.6" cy="1372" r="11.5" fill="#000000" fill-opacity="0.76" stroke="#000000" stroke-opacity="0.76" stroke-width="1.4"/><circle cx="291.2" cy="1373" r="7.6" fill="#000000" fill-opacity="0.76"/><circle cx="280.9" cy="1389.5" r="11.5" fill="#000000" fill-opacity="0.76" stroke="#000000" stroke-opacity="0.76" stroke-width="1.4"/><circle cx="279.5" cy="1390.5" r="7.6" fill="#000000" fill-opacity="0.76"/><circle cx="247.3" cy="1405.6" r="11.5" fill="#000000" fill-opacity="0.76" stroke="#000000" stroke-opacity="0.76" stroke-width="1.4"/><circle cx="245.9" cy="1406.6" r="7.6" fill="#000000" fill-opacity="0.76"/><circle cx="206.2" cy="1425.1" r="11.5" fill="#000000" fill-opacity="0.76" stroke="#000000" stroke-opacity="0.76" stroke-width="1.4"/><circle cx="204.8" cy="1426.1" r="7.6" fill="#000000" fill-opacity="0.76"/><circle cx="274.7" cy="1420.6" r="11.5" fill="#000000" fill-opacity="0.76" stroke="#000000" stroke-opacity="0.76" stroke-width="1.4"/><circle cx="273.3" cy="1421.6" r="7.6" fill="#000000" fill-opacity="0.76"/><circle cx="308.3" cy="1429.3" r="11.5" fill="#000000" fill-opacity="0.76" stroke="#000000" stroke-opacity="0.76" stroke-width="1.4"/><circle cx="306.9" cy="1430.3" r="7.6" fill="#000000" fill-opacity="0.76"/><circle cx="241.5" cy="1450" r="11.5" fill="#000000" fill-opacity="0.76" stroke="#000000" stroke-opacity="0.76" stroke-width="1.4"/><circle cx="240.1" cy="1451" r="7.6" fill="#000000" fill-opacity="0.76"/><circle cx="342.4" cy="1409.9" r="11.5" fill="#000000" fill-opacity="0.76" stroke="#000000" stroke-opacity="0.76" stroke-width="1.4"/><circle cx="341" cy="1410.9" r="7.6" fill="#000000" fill-opacity="0.76"/><circle cx="378.5" cy="1395.7" r="11.5" fill="#000000" fill-opacity="0.76" stroke="#000000" stroke-opacity="0.76" stroke-width="1.4"/><circle cx="377.1" cy="1396.7" r="7.6" fill="#000000" fill-opacity="0.76"/><circle cx="394.7" cy="1397.4" r="11.5" fill="#000000" fill-opacity="0.76" stroke="#000000" stroke-opacity="0.76" stroke-width="1.4"/><circle cx="393.3" cy="1398.4" r="7.6" fill="#000000" fill-opacity="0.76"/><circle cx="404.6" cy="1401.9" r="11.5" fill="#000000" fill-opacity="0.76" stroke="#000000" stroke-opacity="0.76" stroke-width="1.4"/><circle cx="403.2" cy="1402.9" r="7.6" fill="#000000" fill-opacity="0.76"/><circle cx="384.7" cy="1416.9" r="11.5" fill="#000000" fill-opacity="0.76" stroke="#000000" stroke-opacity="0.76" stroke-width="1.4"/><circle cx="383.3" cy="1417.9" r="7.6" fill="#000000" fill-opacity="0.76"/><circle cx="390.9" cy="1426.8" r="11.5" fill="#000000" fill-opacity="0.76" stroke="#000000" stroke-opacity="0.76" stroke-width="1.4"/><circle cx="389.5" cy="1427.8" r="7.6" fill="#000000" fill-opacity="0.76"/><circle cx="362.3" cy="1450.5" r="11.5" fill="#000000" fill-opacity="0.76" stroke="#000000" stroke-opacity="0.76" stroke-width="1.4"/><circle cx="360.9" cy="1451.5" r="7.6" fill="#000000" fill-opacity="0.76"/><circle cx="378.5" cy="1449.2" r="11.5" fill="#000000" fill-opacity="0.76" stroke="#000000" stroke-opacity="0.76" stroke-width="1.4"/><circle cx="377.1" cy="1450.2" r="7.6" fill="#000000" fill-opacity="0.76"/><circle cx="372.3" cy="1467.9" r="11.5" fill="#000000" fill-opacity="0.76" stroke="#000000" stroke-opacity="0.76" stroke-width="1.4"/><circle cx="370.9" cy="1468.9" r="7.6" fill="#000000" fill-opacity="0.76"/><circle cx="332.4" cy="1495.3" r="11.5" fill="#000000" fill-opacity="0.76" stroke="#000000" stroke-opacity="0.76" stroke-width="1.4"/><circle cx="331" cy="1496.3" r="7.6" fill="#000000" fill-opacity="0.76"/><circle cx="267.7" cy="1509" r="11.5" fill="#000000" fill-opacity="0.76" stroke="#000000" stroke-opacity="0.76" stroke-width="1.4"/><circle cx="266.3" cy="1510" r="7.6" fill="#000000" fill-opacity="0.76"/><circle cx="323.7" cy="1532.6" r="11.5" fill="#000000" fill-opacity="0.76" stroke="#000000" stroke-opacity="0.76" stroke-width="1.4"/><circle cx="322.3" cy="1533.6" r="7.6" fill="#000000" fill-opacity="0.76"/><circle cx="203.7" cy="1390.7" r="11.5" fill="#0000c8" fill-opacity="0.76" stroke="#0000c8" stroke-opacity="0.76" stroke-width="1.4"/><circle cx="202.3" cy="1391.7" r="7.6" fill="#0000c8" fill-opacity="0.76"/><circle cx="246" cy="1389.5" r="11.5" fill="#0000c8" fill-opacity="0.76" stroke="#0000c8" stroke-opacity="0.76" stroke-width="1.4"/><circle cx="244.6" cy="1390.5" r="7.6" fill="#0000c8" fill-opacity="0.76"/><circle cx="294.6" cy="1416.9" r="11.5" fill="#0000c8" fill-opacity="0.76" stroke="#0000c8" stroke-opacity="0.76" stroke-width="1.4"/><circle cx="293.2" cy="1417.9" r="7.6" fill="#0000c8" fill-opacity="0.76"/><circle cx="230.3" cy="1433" r="11.5" fill="#0000c8" fill-opacity="0.76" stroke="#0000c8" stroke-opacity="0.76" stroke-width="1.4"/><circle cx="228.9" cy="1434" r="7.6" fill="#0000c8" fill-opacity="0.76"/><circle cx="207.9" cy="1438" r="11.5" fill="#0000c8" fill-opacity="0.76" stroke="#0000c8" stroke-opacity="0.76" stroke-width="1.4"/><circle cx="206.5" cy="1439" r="7.6" fill="#0000c8" fill-opacity="0.76"/><circle cx="217.4" cy="1449.2" r="11.5" fill="#0000c8" fill-opacity="0.76" stroke="#0000c8" stroke-opacity="0.76" stroke-width="1.4"/><circle cx="216" cy="1450.2" r="7.6" fill="#0000c8" fill-opacity="0.76"/><circle cx="277.1" cy="1449.2" r="11.5" fill="#0000c8" fill-opacity="0.76" stroke="#0000c8" stroke-opacity="0.76" stroke-width="1.4"/><circle cx="275.7" cy="1450.2" r="7.6" fill="#0000c8" fill-opacity="0.76"/><circle cx="342.4" cy="1429.3" r="11.5" fill="#0000c8" fill-opacity="0.76" stroke="#0000c8" stroke-opacity="0.76" stroke-width="1.4"/><circle cx="341" cy="1430.3" r="7.6" fill="#0000c8" fill-opacity="0.76"/><circle cx="358.6" cy="1414.4" r="11.5" fill="#0000c8" fill-opacity="0.76" stroke="#0000c8" stroke-opacity="0.76" stroke-width="1.4"/><circle cx="357.2" cy="1415.4" r="7.6" fill="#0000c8" fill-opacity="0.76"/><circle cx="367.3" cy="1424.3" r="11.5" fill="#0000c8" fill-opacity="0.76" stroke="#0000c8" stroke-opacity="0.76" stroke-width="1.4"/><circle cx="365.9" cy="1425.3" r="7.6" fill="#0000c8" fill-opacity="0.76"/><circle cx="240.3" cy="1485.3" r="11.5" fill="#0000c8" fill-opacity="0.76" stroke="#0000c8" stroke-opacity="0.76" stroke-width="1.4"/><circle cx="238.9" cy="1486.3" r="7.6" fill="#0000c8" fill-opacity="0.76"/><circle cx="247.8" cy="1497.8" r="11.5" fill="#0000c8" fill-opacity="0.76" stroke="#0000c8" stroke-opacity="0.76" stroke-width="1.4"/><circle cx="246.4" cy="1498.8" r="7.6" fill="#0000c8" fill-opacity="0.76"/><circle cx="263.9" cy="1515.2" r="11.5" fill="#0000c8" fill-opacity="0.76" stroke="#0000c8" stroke-opacity="0.76" stroke-width="1.4"/><circle cx="262.5" cy="1516.2" r="7.6" fill="#0000c8" fill-opacity="0.76"/><circle cx="293.8" cy="1485.3" r="11.5" fill="#0000c8" fill-opacity="0.76" stroke="#0000c8" stroke-opacity="0.76" stroke-width="1.4"/><circle cx="292.4" cy="1486.3" r="7.6" fill="#0000c8" fill-opacity="0.76"/><circle cx="312.5" cy="1491.6" r="11.5" fill="#0000c8" fill-opacity="0.76" stroke="#0000c8" stroke-opacity="0.76" stroke-width="1.4"/><circle cx="311.1" cy="1492.6" r="7.6" fill="#0000c8" fill-opacity="0.76"/><circle cx="293.8" cy="1506.5" r="11.5" fill="#0000c8" fill-opacity="0.76" stroke="#0000c8" stroke-opacity="0.76" stroke-width="1.4"/><circle cx="292.4" cy="1507.5" r="7.6" fill="#0000c8" fill-opacity="0.76"/><circle cx="332.4" cy="1504" r="11.5" fill="#0000c8" fill-opacity="0.76" stroke="#0000c8" stroke-opacity="0.76" stroke-width="1.4"/><circle cx="331" cy="1505" r="7.6" fill="#0000c8" fill-opacity="0.76"/><ellipse cx="273.5" cy="1452.8" rx="129.56" ry="103.14" transform="rotate(-152.78 273.5 1452.8)" fill="none" stroke="#0000c8" stroke-width="2.5"/><ellipse cx="325.15" cy="1423.1" rx="147.24" ry="99.97" transform="rotate(-167.42 325.15 1423.1)" fill="none" stroke="#000000" stroke-width="2.5"/></g><path d="M134 1309.3H485V1573.3" fill="none" stroke="#1a1a1a" stroke-width="1.3"/><path d="M134 1308.7V1573.3H485.6" fill="none" stroke="#000" stroke-width="2.9" stroke-linejoin="miter" stroke-linecap="butt"/><path d="M127 1357.1H134M127 1436.8H134M127 1516H134M208.7 1573.3V1580.3M301.8 1573.3V1580.3M394.2 1573.3V1580.3" stroke="#222" stroke-width="2.2" fill="none"/><g font-size="30" fill="#444444"><text transform="translate(121.3 1367.5) scale(1 1.04)" text-anchor="end">0.2</text><text transform="translate(121.3 1447.2) scale(1 1.04)" text-anchor="end">0.0</text><text transform="translate(121.3 1526.4) scale(1 1.04)" text-anchor="end">−0.2</text><text transform="translate(208.7 1607.5) scale(1 1.04)" text-anchor="middle">−0.3</text><text transform="translate(301.8 1607.5) scale(1 1.04)" text-anchor="middle">0.0</text><text transform="translate(394.2 1607.5) scale(1 1.04)" text-anchor="middle">0.3</text></g><text transform="translate(309.5 1643.1) scale(1 1.04)" font-size="30.4" text-anchor="middle" xml:space="preserve">Axis.1   [24.5%]</text><text transform="translate(29.6 1441.3) rotate(-90) scale(1 1.04)" font-size="30.4" text-anchor="middle" xml:space="preserve">Axis.2   [8.8%]</text></g>
<g><text transform="translate(639 1286.5) scale(1 1.04)" font-size="35.6">DPI 7</text><clipPath id="c31"><rect x="639.5" y="1309.3" width="351.0" height="264.0"/></clipPath><g clip-path="url(#c31)"><circle cx="780.7" cy="1398.2" r="11.5" fill="#000000" fill-opacity="0.76" stroke="#000000" stroke-opacity="0.76" stroke-width="1.4"/><circle cx="779.3" cy="1399.2" r="7.6" fill="#000000" fill-opacity="0.76"/><circle cx="790.3" cy="1406.9" r="11.5" fill="#000000" fill-opacity="0.76" stroke="#000000" stroke-opacity="0.76" stroke-width="1.4"/><circle cx="788.9" cy="1407.9" r="7.6" fill="#000000" fill-opacity="0.76"/><circle cx="793.8" cy="1424.4" r="11.5" fill="#000000" fill-opacity="0.76" stroke="#000000" stroke-opacity="0.76" stroke-width="1.4"/><circle cx="792.4" cy="1425.4" r="7.6" fill="#000000" fill-opacity="0.76"/><circle cx="754.5" cy="1414.8" r="11.5" fill="#000000" fill-opacity="0.76" stroke="#000000" stroke-opacity="0.76" stroke-width="1.4"/><circle cx="753.1" cy="1415.8" r="7.6" fill="#000000" fill-opacity="0.76"/><circle cx="763.3" cy="1425.3" r="11.5" fill="#000000" fill-opacity="0.76" stroke="#000000" stroke-opacity="0.76" stroke-width="1.4"/><circle cx="761.9" cy="1426.3" r="7.6" fill="#000000" fill-opacity="0.76"/><circle cx="741.4" cy="1440.1" r="11.5" fill="#000000" fill-opacity="0.76" stroke="#000000" stroke-opacity="0.76" stroke-width="1.4"/><circle cx="740" cy="1441.1" r="7.6" fill="#000000" fill-opacity="0.76"/><circle cx="752.8" cy="1452.4" r="11.5" fill="#000000" fill-opacity="0.76" stroke="#000000" stroke-opacity="0.76" stroke-width="1.4"/><circle cx="751.4" cy="1453.4" r="7.6" fill="#000000" fill-opacity="0.76"/><circle cx="772" cy="1464.6" r="11.5" fill="#000000" fill-opacity="0.76" stroke="#000000" stroke-opacity="0.76" stroke-width="1.4"/><circle cx="770.6" cy="1465.6" r="7.6" fill="#000000" fill-opacity="0.76"/><circle cx="797.3" cy="1462.8" r="11.5" fill="#000000" fill-opacity="0.76" stroke="#000000" stroke-opacity="0.76" stroke-width="1.4"/><circle cx="795.9" cy="1463.8" r="7.6" fill="#000000" fill-opacity="0.76"/><circle cx="846.3" cy="1462.8" r="11.5" fill="#000000" fill-opacity="0.76" stroke="#000000" stroke-opacity="0.76" stroke-width="1.4"/><circle cx="844.9" cy="1463.8" r="7.6" fill="#000000" fill-opacity="0.76"/><circle cx="834.1" cy="1483.8" r="11.5" fill="#000000" fill-opacity="0.76" stroke="#000000" stroke-opacity="0.76" stroke-width="1.4"/><circle cx="832.7" cy="1484.8" r="7.6" fill="#000000" fill-opacity="0.76"/><circle cx="836.7" cy="1490.8" r="11.5" fill="#000000" fill-opacity="0.76" stroke="#000000" stroke-opacity="0.76" stroke-width="1.4"/><circle cx="835.3" cy="1491.8" r="7.6" fill="#000000" fill-opacity="0.76"/><circle cx="767.3" cy="1499.9" r="11.5" fill="#000000" fill-opacity="0.76" stroke="#000000" stroke-opacity="0.76" stroke-width="1.4"/><circle cx="765.9" cy="1500.9" r="7.6" fill="#000000" fill-opacity="0.76"/><circle cx="802.6" cy="1499.9" r="11.5" fill="#000000" fill-opacity="0.76" stroke="#000000" stroke-opacity="0.76" stroke-width="1.4"/><circle cx="801.2" cy="1500.9" r="7.6" fill="#000000" fill-opacity="0.76"/><circle cx="938.1" cy="1456.7" r="11.5" fill="#000000" fill-opacity="0.76" stroke="#000000" stroke-opacity="0.76" stroke-width="1.4"/><circle cx="936.7" cy="1457.7" r="7.6" fill="#000000" fill-opacity="0.76"/><circle cx="953.8" cy="1545.9" r="11.5" fill="#000000" fill-opacity="0.76" stroke="#000000" stroke-opacity="0.76" stroke-width="1.4"/><circle cx="952.4" cy="1546.9" r="7.6" fill="#000000" fill-opacity="0.76"/><circle cx="952.9" cy="1550.3" r="11.5" fill="#000000" fill-opacity="0.76" stroke="#000000" stroke-opacity="0.76" stroke-width="1.4"/><circle cx="951.5" cy="1551.3" r="7.6" fill="#000000" fill-opacity="0.76"/><circle cx="886.5" cy="1347.1" r="11.5" fill="#0000c8" fill-opacity="0.76" stroke="#0000c8" stroke-opacity="0.76" stroke-width="1.4"/><circle cx="885.1" cy="1348.1" r="7.6" fill="#0000c8" fill-opacity="0.76"/><circle cx="861.2" cy="1354.8" r="11.5" fill="#0000c8" fill-opacity="0.76" stroke="#0000c8" stroke-opacity="0.76" stroke-width="1.4"/><circle cx="859.8" cy="1355.8" r="7.6" fill="#0000c8" fill-opacity="0.76"/><circle cx="850.7" cy="1366.3" r="11.5" fill="#0000c8" fill-opacity="0.76" stroke="#0000c8" stroke-opacity="0.76" stroke-width="1.4"/><circle cx="849.3" cy="1367.3" r="7.6" fill="#0000c8" fill-opacity="0.76"/><circle cx="880.4" cy="1369.3" r="11.5" fill="#0000c8" fill-opacity="0.76" stroke="#0000c8" stroke-opacity="0.76" stroke-width="1.4"/><circle cx="879" cy="1370.3" r="7.6" fill="#0000c8" fill-opacity="0.76"/><circle cx="882.1" cy="1379.8" r="11.5" fill="#0000c8" fill-opacity="0.76" stroke="#0000c8" stroke-opacity="0.76" stroke-width="1.4"/><circle cx="880.7" cy="1380.8" r="7.6" fill="#0000c8" fill-opacity="0.76"/><circle cx="869" cy="1392.9" r="11.5" fill="#0000c8" fill-opacity="0.76" stroke="#0000c8" stroke-opacity="0.76" stroke-width="1.4"/><circle cx="867.6" cy="1393.9" r="7.6" fill="#0000c8" fill-opacity="0.76"/><circle cx="867.3" cy="1399" r="11.5" fill="#0000c8" fill-opacity="0.76" stroke="#0000c8" stroke-opacity="0.76" stroke-width="1.4"/><circle cx="865.9" cy="1400" r="7.6" fill="#0000c8" fill-opacity="0.76"/><circle cx="843.7" cy="1392.9" r="11.5" fill="#0000c8" fill-opacity="0.76" stroke="#0000c8" stroke-opacity="0.76" stroke-width="1.4"/><circle cx="842.3" cy="1393.9" r="7.6" fill="#0000c8" fill-opacity="0.76"/><circle cx="833.2" cy="1397.3" r="11.5" fill="#0000c8" fill-opacity="0.76" stroke="#0000c8" stroke-opacity="0.76" stroke-width="1.4"/><circle cx="831.8" cy="1398.3" r="7.6" fill="#0000c8" fill-opacity="0.76"/><circle cx="807" cy="1385.9" r="11.5" fill="#0000c8" fill-opacity="0.76" stroke="#0000c8" stroke-opacity="0.76" stroke-width="1.4"/><circle cx="805.6" cy="1386.9" r="7.6" fill="#0000c8" fill-opacity="0.76"/><circle cx="914.5" cy="1401.3" r="11.5" fill="#0000c8" fill-opacity="0.76" stroke="#0000c8" stroke-opacity="0.76" stroke-width="1.4"/><circle cx="913.1" cy="1402.3" r="7.6" fill="#0000c8" fill-opacity="0.76"/><circle cx="946.8" cy="1416.5" r="11.5" fill="#0000c8" fill-opacity="0.76" stroke="#0000c8" stroke-opacity="0.76" stroke-width="1.4"/><circle cx="945.4" cy="1417.5" r="7.6" fill="#0000c8" fill-opacity="0.76"/><circle cx="946.8" cy="1420.9" r="11.5" fill="#0000c8" fill-opacity="0.76" stroke="#0000c8" stroke-opacity="0.76" stroke-width="1.4"/><circle cx="945.4" cy="1421.9" r="7.6" fill="#0000c8" fill-opacity="0.76"/><circle cx="838.4" cy="1420" r="11.5" fill="#0000c8" fill-opacity="0.76" stroke="#0000c8" stroke-opacity="0.76" stroke-width="1.4"/><circle cx="837" cy="1421" r="7.6" fill="#0000c8" fill-opacity="0.76"/><circle cx="854.7" cy="1436.6" r="11.5" fill="#0000c8" fill-opacity="0.76" stroke="#0000c8" stroke-opacity="0.76" stroke-width="1.4"/><circle cx="853.3" cy="1437.6" r="7.6" fill="#0000c8" fill-opacity="0.76"/><circle cx="959.9" cy="1448.9" r="11.5" fill="#0000c8" fill-opacity="0.76" stroke="#0000c8" stroke-opacity="0.76" stroke-width="1.4"/><circle cx="958.5" cy="1449.9" r="7.6" fill="#0000c8" fill-opacity="0.76"/><circle cx="738.8" cy="1468.4" r="11.5" fill="#0000c8" fill-opacity="0.76" stroke="#0000c8" stroke-opacity="0.76" stroke-width="1.4"/><circle cx="737.4" cy="1469.4" r="7.6" fill="#0000c8" fill-opacity="0.76"/><ellipse cx="870.1" cy="1391.85" rx="105.86" ry="70.55" transform="rotate(-174.56 870.1 1391.85)" fill="none" stroke="#0000c8" stroke-width="2.5"/><ellipse cx="804.35" cy="1459.35" rx="167.57" ry="69.38" transform="rotate(-150.21 804.35 1459.35)" fill="none" stroke="#000000" stroke-width="2.5"/></g><path d="M639.5 1309.3H990.5V1573.3" fill="none" stroke="#1a1a1a" stroke-width="1.3"/><path d="M639.5 1308.7V1573.3H991.1" fill="none" stroke="#000" stroke-width="2.9" stroke-linejoin="miter" stroke-linecap="butt"/><path d="M632.5 1345.1H639.5M632.5 1387.5H639.5M632.5 1429.8H639.5M632.5 1472.1H639.5M632.5 1514.5H639.5M632.5 1556.8H639.5M685 1573.3V1580.3M764.4 1573.3V1580.3M843.9 1573.3V1580.3M923.3 1573.3V1580.3" stroke="#222" stroke-width="2.2" fill="none"/><g font-size="30" fill="#444444"><text transform="translate(626.8 1355.5) scale(1 1.04)" text-anchor="end">0.2</text><text transform="translate(626.8 1397.9) scale(1 1.04)" text-anchor="end">0.1</text><text transform="translate(626.8 1440.2) scale(1 1.04)" text-anchor="end">0.0</text><text transform="translate(626.8 1482.5) scale(1 1.04)" text-anchor="end">−0.1</text><text transform="translate(626.8 1524.9) scale(1 1.04)" text-anchor="end">−0.2</text><text transform="translate(626.8 1567.2) scale(1 1.04)" text-anchor="end">−0.3</text><text transform="translate(685 1607.5) scale(1 1.04)" text-anchor="middle">−0.4</text><text transform="translate(764.4 1607.5) scale(1 1.04)" text-anchor="middle">−0.2</text><text transform="translate(843.9 1607.5) scale(1 1.04)" text-anchor="middle">0.0</text><text transform="translate(923.3 1607.5) scale(1 1.04)" text-anchor="middle">0.2</text></g><text transform="translate(815 1643.1) scale(1 1.04)" font-size="30.4" text-anchor="middle" xml:space="preserve">Axis.1   [20.8%]</text><text transform="translate(535.1 1441.3) rotate(-90) scale(1 1.04)" font-size="30.4" text-anchor="middle" xml:space="preserve">Axis.2   [10.8%]</text></g>
<g><text transform="translate(1144.5 1286.5) scale(1 1.04)" font-size="35.6">DPI 21</text><clipPath id="c32"><rect x="1145" y="1309.3" width="351.0" height="264.0"/></clipPath><g clip-path="url(#c32)"><circle cx="1219.8" cy="1377.5" r="11.5" fill="#000000" fill-opacity="0.76" stroke="#000000" stroke-opacity="0.76" stroke-width="1.4"/><circle cx="1218.4" cy="1378.5" r="7.6" fill="#000000" fill-opacity="0.76"/><circle cx="1258.3" cy="1375.1" r="11.5" fill="#000000" fill-opacity="0.76" stroke="#000000" stroke-opacity="0.76" stroke-width="1.4"/><circle cx="1256.9" cy="1376.1" r="7.6" fill="#000000" fill-opacity="0.76"/><circle cx="1210.6" cy="1399" r="11.5" fill="#000000" fill-opacity="0.76" stroke="#000000" stroke-opacity="0.76" stroke-width="1.4"/><circle cx="1209.2" cy="1400" r="7.6" fill="#000000" fill-opacity="0.76"/><circle cx="1200.6" cy="1419.1" r="11.5" fill="#000000" fill-opacity="0.76" stroke="#000000" stroke-opacity="0.76" stroke-width="1.4"/><circle cx="1199.2" cy="1420.1" r="7.6" fill="#000000" fill-opacity="0.76"/><circle cx="1219.3" cy="1421.8" r="11.5" fill="#000000" fill-opacity="0.76" stroke="#000000" stroke-opacity="0.76" stroke-width="1.4"/><circle cx="1217.9" cy="1422.8" r="7.6" fill="#000000" fill-opacity="0.76"/><circle cx="1301.5" cy="1437.5" r="11.5" fill="#000000" fill-opacity="0.76" stroke="#000000" stroke-opacity="0.76" stroke-width="1.4"/><circle cx="1300.1" cy="1438.5" r="7.6" fill="#000000" fill-opacity="0.76"/><circle cx="1225.8" cy="1452.7" r="11.5" fill="#000000" fill-opacity="0.76" stroke="#000000" stroke-opacity="0.76" stroke-width="1.4"/><circle cx="1224.4" cy="1453.7" r="7.6" fill="#000000" fill-opacity="0.76"/><circle cx="1237.7" cy="1466.3" r="11.5" fill="#000000" fill-opacity="0.76" stroke="#000000" stroke-opacity="0.76" stroke-width="1.4"/><circle cx="1236.3" cy="1467.3" r="7.6" fill="#000000" fill-opacity="0.76"/><circle cx="1194.3" cy="1490.8" r="11.5" fill="#000000" fill-opacity="0.76" stroke="#000000" stroke-opacity="0.76" stroke-width="1.4"/><circle cx="1192.9" cy="1491.8" r="7.6" fill="#000000" fill-opacity="0.76"/><circle cx="1210" cy="1497.8" r="11.5" fill="#000000" fill-opacity="0.76" stroke="#000000" stroke-opacity="0.76" stroke-width="1.4"/><circle cx="1208.6" cy="1498.8" r="7.6" fill="#000000" fill-opacity="0.76"/><circle cx="1222.8" cy="1495.2" r="11.5" fill="#000000" fill-opacity="0.76" stroke="#000000" stroke-opacity="0.76" stroke-width="1.4"/><circle cx="1221.4" cy="1496.2" r="7.6" fill="#000000" fill-opacity="0.76"/><circle cx="1464.9" cy="1399" r="11.5" fill="#0000c8" fill-opacity="0.76" stroke="#0000c8" stroke-opacity="0.76" stroke-width="1.4"/><circle cx="1463.5" cy="1400" r="7.6" fill="#0000c8" fill-opacity="0.76"/><circle cx="1416.9" cy="1413" r="11.5" fill="#0000c8" fill-opacity="0.76" stroke="#0000c8" stroke-opacity="0.76" stroke-width="1.4"/><circle cx="1415.5" cy="1414" r="7.6" fill="#0000c8" fill-opacity="0.76"/><circle cx="1423" cy="1431.4" r="11.5" fill="#0000c8" fill-opacity="0.76" stroke="#0000c8" stroke-opacity="0.76" stroke-width="1.4"/><circle cx="1421.6" cy="1432.4" r="7.6" fill="#0000c8" fill-opacity="0.76"/><circle cx="1439.6" cy="1429.6" r="11.5" fill="#0000c8" fill-opacity="0.76" stroke="#0000c8" stroke-opacity="0.76" stroke-width="1.4"/><circle cx="1438.2" cy="1430.6" r="7.6" fill="#0000c8" fill-opacity="0.76"/><circle cx="1438.7" cy="1445.4" r="11.5" fill="#0000c8" fill-opacity="0.76" stroke="#0000c8" stroke-opacity="0.76" stroke-width="1.4"/><circle cx="1437.3" cy="1446.4" r="7.6" fill="#0000c8" fill-opacity="0.76"/><circle cx="1395.9" cy="1448.9" r="11.5" fill="#0000c8" fill-opacity="0.76" stroke="#0000c8" stroke-opacity="0.76" stroke-width="1.4"/><circle cx="1394.5" cy="1449.9" r="7.6" fill="#0000c8" fill-opacity="0.76"/><circle cx="1409.9" cy="1454.1" r="11.5" fill="#0000c8" fill-opacity="0.76" stroke="#0000c8" stroke-opacity="0.76" stroke-width="1.4"/><circle cx="1408.5" cy="1455.1" r="7.6" fill="#0000c8" fill-opacity="0.76"/><circle cx="1382.8" cy="1460.2" r="11.5" fill="#0000c8" fill-opacity="0.76" stroke="#0000c8" stroke-opacity="0.76" stroke-width="1.4"/><circle cx="1381.4" cy="1461.2" r="7.6" fill="#0000c8" fill-opacity="0.76"/><circle cx="1408.1" cy="1463.7" r="11.5" fill="#0000c8" fill-opacity="0.76" stroke="#0000c8" stroke-opacity="0.76" stroke-width="1.4"/><circle cx="1406.7" cy="1464.7" r="7.6" fill="#0000c8" fill-opacity="0.76"/><circle cx="1430.8" cy="1463.7" r="11.5" fill="#0000c8" fill-opacity="0.76" stroke="#0000c8" stroke-opacity="0.76" stroke-width="1.4"/><circle cx="1429.4" cy="1464.7" r="7.6" fill="#0000c8" fill-opacity="0.76"/><circle cx="1367.9" cy="1481.2" r="11.5" fill="#0000c8" fill-opacity="0.76" stroke="#0000c8" stroke-opacity="0.76" stroke-width="1.4"/><circle cx="1366.5" cy="1482.2" r="7.6" fill="#0000c8" fill-opacity="0.76"/><circle cx="1390.6" cy="1480.3" r="11.5" fill="#0000c8" fill-opacity="0.76" stroke="#0000c8" stroke-opacity="0.76" stroke-width="1.4"/><circle cx="1389.2" cy="1481.3" r="7.6" fill="#0000c8" fill-opacity="0.76"/><ellipse cx="1412.9" cy="1449.1" rx="87.04" ry="28.33" transform="rotate(139.39 1412.9 1449.1)" fill="none" stroke="#0000c8" stroke-width="2.5"/><ellipse cx="1222.35" cy="1441.25" rx="121.19" ry="59.98" transform="rotate(-82.22 1222.35 1441.25)" fill="none" stroke="#000000" stroke-width="2.5"/></g><path d="M1145 1309.3H1496V1573.3" fill="none" stroke="#1a1a1a" stroke-width="1.3"/><path d="M1145 1308.7V1573.3H1496.6" fill="none" stroke="#000" stroke-width="2.9" stroke-linejoin="miter" stroke-linecap="butt"/><path d="M1138 1314.6H1145M1138 1378.8H1145M1138 1443.3H1145M1138 1508H1145M1138 1572.2H1145M1158.7 1573.3V1580.3M1241.4 1573.3V1580.3M1324.5 1573.3V1580.3M1407.4 1573.3V1580.3M1490.2 1573.3V1580.3" stroke="#222" stroke-width="2.2" fill="none"/><g font-size="30" fill="#444444"><text transform="translate(1132.3 1325) scale(1 1.04)" text-anchor="end">0.50</text><text transform="translate(1132.3 1389.2) scale(1 1.04)" text-anchor="end">0.25</text><text transform="translate(1132.3 1453.7) scale(1 1.04)" text-anchor="end">0.00</text><text transform="translate(1132.3 1518.4) scale(1 1.04)" text-anchor="end">−0.25</text><text transform="translate(1132.3 1582.6) scale(1 1.04)" text-anchor="end">−0.50</text><text transform="translate(1158.7 1607.5) scale(1 1.04)" text-anchor="middle">−0.4</text><text transform="translate(1241.4 1607.5) scale(1 1.04)" text-anchor="middle">−0.2</text><text transform="translate(1324.5 1607.5) scale(1 1.04)" text-anchor="middle">0.0</text><text transform="translate(1407.4 1607.5) scale(1 1.04)" text-anchor="middle">0.2</text><text transform="translate(1490.2 1607.5) scale(1 1.04)" text-anchor="middle">0.4</text></g><text transform="translate(1320.5 1643.1) scale(1 1.04)" font-size="30.4" text-anchor="middle" xml:space="preserve">Axis.1   [33.4%]</text><text transform="translate(1040.6 1441.3) rotate(-90) scale(1 1.04)" font-size="30.4" text-anchor="middle" xml:space="preserve">Axis.2   [11%]</text></g>
<g><text transform="translate(1650.1 1286.5) scale(1 1.04)" font-size="35.6">DPI 28</text><clipPath id="c33"><rect x="1650.6" y="1309.3" width="351.0" height="264.0"/></clipPath><g clip-path="url(#c33)"><circle cx="1752" cy="1404.9" r="11.5" fill="#000000" fill-opacity="0.76" stroke="#000000" stroke-opacity="0.76" stroke-width="1.4"/><circle cx="1750.6" cy="1405.9" r="7.6" fill="#000000" fill-opacity="0.76"/><circle cx="1769" cy="1414.4" r="11.5" fill="#000000" fill-opacity="0.76" stroke="#000000" stroke-opacity="0.76" stroke-width="1.4"/><circle cx="1767.6" cy="1415.4" r="7.6" fill="#000000" fill-opacity="0.76"/><circle cx="1795.1" cy="1437.5" r="11.5" fill="#000000" fill-opacity="0.76" stroke="#000000" stroke-opacity="0.76" stroke-width="1.4"/><circle cx="1793.7" cy="1438.5" r="7.6" fill="#000000" fill-opacity="0.76"/><circle cx="1716.7" cy="1474.1" r="11.5" fill="#000000" fill-opacity="0.76" stroke="#000000" stroke-opacity="0.76" stroke-width="1.4"/><circle cx="1715.3" cy="1475.1" r="7.6" fill="#000000" fill-opacity="0.76"/><circle cx="1751.5" cy="1486.1" r="11.5" fill="#000000" fill-opacity="0.76" stroke="#000000" stroke-opacity="0.76" stroke-width="1.4"/><circle cx="1750.1" cy="1487.1" r="7.6" fill="#000000" fill-opacity="0.76"/><circle cx="1894" cy="1428.6" r="11.5" fill="#0000c8" fill-opacity="0.76" stroke="#0000c8" stroke-opacity="0.76" stroke-width="1.4"/><circle cx="1892.6" cy="1429.6" r="7.6" fill="#0000c8" fill-opacity="0.76"/><circle cx="1911.4" cy="1434.8" r="11.5" fill="#0000c8" fill-opacity="0.76" stroke="#0000c8" stroke-opacity="0.76" stroke-width="1.4"/><circle cx="1910" cy="1435.8" r="7.6" fill="#0000c8" fill-opacity="0.76"/><circle cx="1947" cy="1440.5" r="11.5" fill="#0000c8" fill-opacity="0.76" stroke="#0000c8" stroke-opacity="0.76" stroke-width="1.4"/><circle cx="1945.6" cy="1441.5" r="7.6" fill="#0000c8" fill-opacity="0.76"/><circle cx="1881.5" cy="1465.4" r="11.5" fill="#0000c8" fill-opacity="0.76" stroke="#0000c8" stroke-opacity="0.76" stroke-width="1.4"/><circle cx="1880.1" cy="1466.4" r="7.6" fill="#0000c8" fill-opacity="0.76"/><circle cx="1911.9" cy="1459.7" r="11.5" fill="#0000c8" fill-opacity="0.76" stroke="#0000c8" stroke-opacity="0.76" stroke-width="1.4"/><circle cx="1910.5" cy="1460.7" r="7.6" fill="#0000c8" fill-opacity="0.76"/><circle cx="1934.3" cy="1457.9" r="11.5" fill="#0000c8" fill-opacity="0.76" stroke="#0000c8" stroke-opacity="0.76" stroke-width="1.4"/><circle cx="1932.9" cy="1458.9" r="7.6" fill="#0000c8" fill-opacity="0.76"/><ellipse cx="1915.3" cy="1448.35" rx="71.71" ry="45.37" transform="rotate(175.82 1915.3 1448.35)" fill="none" stroke="#0000c8" stroke-width="2.5"/><ellipse cx="1757.55" cy="1441.15" rx="130.63" ry="75.88" transform="rotate(-61.32 1757.55 1441.15)" fill="none" stroke="#000000" stroke-width="2.5"/></g><path d="M1650.6 1309.3H2001.6V1573.3" fill="none" stroke="#1a1a1a" stroke-width="1.3"/><path d="M1650.6 1308.7V1573.3H2002.2" fill="none" stroke="#000" stroke-width="2.9" stroke-linejoin="miter" stroke-linecap="butt"/><path d="M1643.6 1370.3H1650.6M1643.6 1446H1650.6M1643.6 1520.9H1650.6M1661.9 1573.3V1580.3M1752 1573.3V1580.3M1841.7 1573.3V1580.3M1931.3 1573.3V1580.3" stroke="#222" stroke-width="2.2" fill="none"/><g font-size="30" fill="#444444"><text transform="translate(1637.9 1380.7) scale(1 1.04)" text-anchor="end">0.5</text><text transform="translate(1637.9 1456.4) scale(1 1.04)" text-anchor="end">0.0</text><text transform="translate(1637.9 1531.3) scale(1 1.04)" text-anchor="end">−0.5</text><text transform="translate(1661.9 1607.5) scale(1 1.04)" text-anchor="middle">−0.50</text><text transform="translate(1752 1607.5) scale(1 1.04)" text-anchor="middle">−0.25</text><text transform="translate(1841.7 1607.5) scale(1 1.04)" text-anchor="middle">0.00</text><text transform="translate(1931.3 1607.5) scale(1 1.04)" text-anchor="middle">0.25</text></g><text transform="translate(1826.1 1643.1) scale(1 1.04)" font-size="30.4" text-anchor="middle" xml:space="preserve">Axis.1   [32.1%]</text><text transform="translate(1546.2 1441.3) rotate(-90) scale(1 1.04)" font-size="30.4" text-anchor="middle" xml:space="preserve">Axis.2   [16.1%]</text></g>
<text transform="translate(626.5 1764.5) scale(1 1.04)" font-size="45.5">Treatment Group</text>
<circle cx="1016.7" cy="1748.4" r="11.5" fill="#3d3dde" stroke="#0000a6" stroke-width="1.4"/><path d="M999 1748.4H1034.4" stroke="#0000a6" stroke-width="2.5"/><circle cx="1015.5" cy="1749.6" r="7.6" fill="#0e0ed6"/><text transform="translate(1061 1764.5) scale(1 1.04)" font-size="45.5">Law</text>
<circle cx="1189.8" cy="1748.4" r="11.5" fill="#3d3d3d" stroke="#000000" stroke-width="1.4"/><path d="M1172.1 1748.4H1207.5" stroke="#000000" stroke-width="2.5"/><circle cx="1188.6" cy="1749.6" r="7.6" fill="#000000"/><text transform="translate(1235.3 1764.5) scale(1 1.04)" font-size="45.5">Control</text>
</svg>
</body></html>
